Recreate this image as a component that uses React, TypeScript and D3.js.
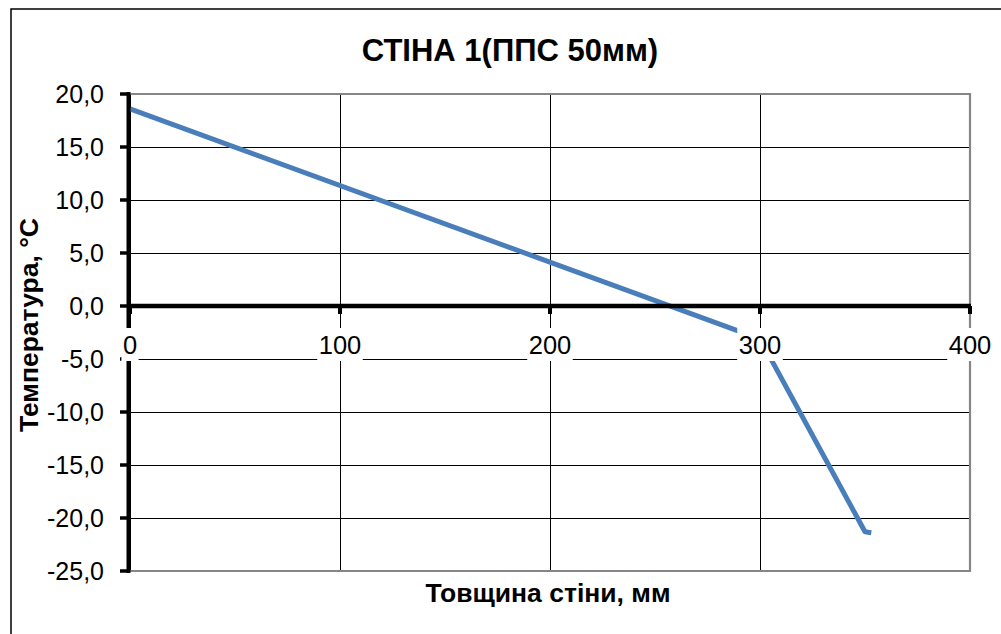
import React from "react";
import * as d3 from "d3";

const thickness: number[] = [0, 300, 350, 353];
const temperature: number[] = [18.6, -3.1, -21.3, -21.4];
const xTicks: number[] = [0, 100, 200, 300, 400];
const yTicks: number[] = [20, 15, 10, 5, 0, -5, -10, -15, -20, -25];
const titleText = "СТІНА 1(ППС 50мм)";
const xTitle = "Товщина стіни, мм";
const yTitle = "Температура, °С";

const W = 1001;
const H = 634;
const PL = 130, PR = 970, PT = 94, PB = 571;

export default function App() {
  const x = d3.scaleLinear().domain([0, 400]).range([PL, PR]);
  const y = d3.scaleLinear().domain([-25, 20]).range([PB, PT]);
  const pts: [number, number][] = thickness.map((t, i) => [t, temperature[i]]);
  const line = d3.line<[number, number]>().x(d => x(d[0])).y(d => y(d[1]));
  const fmt = (v: number) => v.toFixed(1).replace(".", ",");
  const font = "'Liberation Sans', Arial, sans-serif";
  const xFs = 25.5;
  const yFs = 25;
  const xLabelY = 345;

  return (
    <div style={{ position: "absolute", left: 0, top: 0 }}>
      <svg width={W} height={H} style={{ display: "block", background: "#fff" }}>
        <rect x={0} y={0} width={W} height={H} fill="#fff" />
        <path d={`M11,${H + 5} V9 H${W + 5}`} fill="none" stroke="#000" strokeWidth={1.5} />
        <text x={510} y={61} textAnchor="middle" fontFamily={font} fontWeight="bold" fontSize={31} fill="#000">
          {titleText}
        </text>
        {yTicks.map(v => (
          <line key={"gy" + v} x1={PL} x2={PR} y1={Math.round(y(v)) + 0.5} y2={Math.round(y(v)) + 0.5} stroke="#000" strokeWidth={1} />
        ))}
        {xTicks.map(v => (
          <line key={"gx" + v} x1={Math.round(x(v)) + 0.5} x2={Math.round(x(v)) + 0.5} y1={PT} y2={PB} stroke="#000" strokeWidth={1} />
        ))}
        <path d={`M${PL},${PT} H${PR} V${PB} H${PL}`} fill="none" stroke="#868686" strokeWidth={2.2} />
        <path d={line(pts) || ""} fill="none" stroke="#4a7ebb" strokeWidth={5} strokeLinejoin="round" strokeLinecap="butt" />
        <line x1={128.5} x2={128.5} y1={PT - 2} y2={PB + 2} stroke="#000" strokeWidth={4} />
        {yTicks.map(v => (
          <line key={"ty" + v} x1={120} x2={130} y1={y(v)} y2={y(v)} stroke="#000" strokeWidth={3.5} />
        ))}
        <line x1={PL} x2={PR + 1} y1={y(0)} y2={y(0)} stroke="#000" strokeWidth={4.5} />
        {xTicks.map(v => (
          <line key={"tx" + v} x1={x(v)} x2={x(v)} y1={y(0)} y2={y(0) + 8} stroke="#000" strokeWidth={4} />
        ))}
        {yTicks.map(v => (
          <text key={"ly" + v} x={104} y={y(v)} dy="0.36em" textAnchor="end" fontFamily={font} fontSize={yFs} fill="#000">
            {fmt(v)}
          </text>
        ))}
        {xTicks.map(v => {
          const s = String(v);
          const w = s.length * 0.556 * xFs + 3;
          return (
            <g key={"lx" + v}>
              <rect x={x(v) - w / 2} y={xLabelY - 17} width={w} height={33} fill="#fff" />
              <text x={x(v)} y={xLabelY} dy="0.36em" textAnchor="middle" fontFamily={font} fontSize={xFs} fill="#000">
                {s}
              </text>
            </g>
          );
        })}
        <text x={548} y={601.5} textAnchor="middle" fontFamily={font} fontWeight="bold" fontSize={26.5} fill="#000">
          {xTitle}
        </text>
        <text transform={`translate(38,325) rotate(-90)`} textAnchor="middle" fontFamily={font} fontWeight="bold" fontSize={26.5} fill="#000">
          {yTitle}
        </text>
      </svg>
    </div>
  );
}
